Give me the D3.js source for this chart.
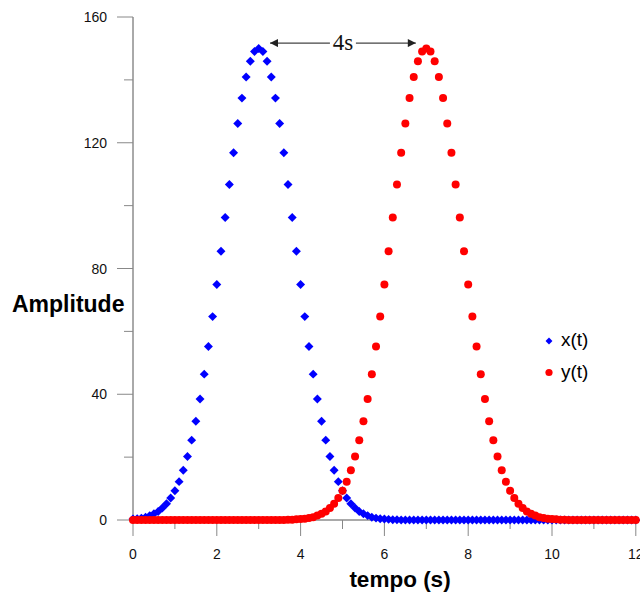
<!DOCTYPE html>
<html><head><meta charset="utf-8">
<script src="https://cdn.jsdelivr.net/npm/d3@7"></script>
<style>body{margin:0;background:#fff;overflow:hidden}svg{display:block}</style>
</head><body>
<script>
// time samples 0..12 s, step 0.1 s
const tStart = 0, tStep = 0.1;
const xValues = [
0.3,0.4,0.6,0.9,1.4,2.0,2.7,3.8,5.2,7.0,
9.3,12.2,15.8,20.2,25.4,31.4,38.5,46.4,55.2,64.7,
74.9,85.5,96.2,106.7,116.8,126.1,134.2,140.9,145.9,149.0,
150.0,149.0,145.9,140.9,134.2,126.1,116.8,106.7,96.2,85.5,
74.9,64.7,55.2,46.4,38.5,31.4,25.4,20.2,15.8,12.2,
9.3,7.0,5.2,3.8,2.7,2.0,1.4,0.9,0.6,0.4,
0.3,0.2,0.1,0.1,0,0,0,0,0,0,
0,0,0,0,0,0,0,0,0,0,
0,0,0,0,0,0,0,0,0,0,
0,0,0,0,0,0,0,0,0,0,
0,0,0,0,0,0,0,0,0,0,
0,0,0,0,0,0,0,0,0,0,
0];
const yValues = [
0,0,0,0,0,0,0,0,0,0,
0,0,0,0,0,0,0,0,0,0,
0,0,0,0,0,0,0,0,0,0,
0,0,0,0,0,0,0,0.1,0.1,0.2,
0.3,0.4,0.6,0.9,1.4,2.0,2.7,3.8,5.2,7.0,
9.3,12.2,15.8,20.2,25.4,31.4,38.5,46.4,55.2,64.7,
74.9,85.5,96.2,106.7,116.8,126.1,134.2,140.9,145.9,149.0,
150.0,149.0,145.9,140.9,134.2,126.1,116.8,106.7,96.2,85.5,
74.9,64.7,55.2,46.4,38.5,31.4,25.4,20.2,15.8,12.2,
9.3,7.0,5.2,3.8,2.7,2.0,1.4,0.9,0.6,0.4,
0.3,0.2,0.1,0.1,0,0,0,0,0,0,
0,0,0,0,0,0,0,0,0,0,
0];
const seriesNames = ["x(t)", "y(t)"];
const seriesColors = ["#0000ff", "#ff0000"];
const xTicks = [0, 2, 4, 6, 8, 10, 12];
const xMinorTicks = [1, 3, 5, 7, 9, 11];
const yTicks = [0, 40, 80, 120, 160];
const yMinorTicks = [20, 60, 100, 140];
const annotation = {from: 3.27, to: 6.75, level: 151.7, label: "4s"};

const W = 640, H = 594;
const svg = d3.select("body").append("svg").attr("width", W).attr("height", H);
const x = d3.scaleLinear().domain([0, 12]).range([133, 635.8]);
const y = d3.scaleLinear().domain([0, 160]).range([520, 17]);

const font = "'Liberation Sans', Arial, sans-serif";

// axes
const yAxis = svg.append("g");
yAxis.append("line").attr("x1", x(0)).attr("x2", x(0)).attr("y1", y(160)).attr("y2", y(0)).attr("stroke", "#555").attr("stroke-width", 1);
yAxis.selectAll(".maj").data(yTicks).join("line").attr("x1", x(0) - 16).attr("x2", x(0))
  .attr("y1", d => y(d)).attr("y2", d => y(d)).attr("stroke", "#888");
yAxis.selectAll(".min").data(yMinorTicks).join("line").attr("class","min").attr("x1", x(0) - 9).attr("x2", x(0))
  .attr("y1", d => y(d)).attr("y2", d => y(d)).attr("stroke", "#888");
yAxis.selectAll("text").data(yTicks).join("text").attr("x", 107).attr("y", d => y(d) + 5)
  .attr("text-anchor", "end").attr("font-family", font).attr("font-size", 14).attr("fill", "#111").text(d => d);

const xAxis = svg.append("g");
xAxis.append("line").attr("x1", x(0)).attr("x2", x(12)).attr("y1", y(0)).attr("y2", y(0)).attr("stroke", "#555");
xAxis.selectAll(".maj").data(xTicks).join("line").attr("x1", d => x(d)).attr("x2", d => x(d))
  .attr("y1", y(0)).attr("y2", y(0) + 16).attr("stroke", "#888");
xAxis.selectAll(".min").data(xMinorTicks).join("line").attr("class","min").attr("x1", d => x(d)).attr("x2", d => x(d))
  .attr("y1", y(0)).attr("y2", y(0) + 9).attr("stroke", "#888");
xAxis.selectAll("text").data(xTicks).join("text").attr("x", d => x(d)).attr("y", 559)
  .attr("text-anchor", "middle").attr("font-family", font).attr("font-size", 14).attr("fill", "#111").text(d => d);

// axis titles
svg.append("text").attr("x", 12).attr("y", 312).attr("font-family", font).attr("font-weight", "bold")
  .attr("font-size", 23).attr("fill", "#000").text("Amplitude");
svg.append("text").attr("x", 400).attr("y", 587).attr("text-anchor", "middle").attr("font-family", font)
  .attr("font-weight", "bold").attr("font-size", 22.5).attr("fill", "#000").text("tempo (s)");

// data
const ptsX = xValues.map((v, i) => ({t: tStart + i * tStep, v}));
const ptsY = yValues.map((v, i) => ({t: tStart + i * tStep, v}));
const diamond = d3.symbol().type(d3.symbolSquare).size(40);
svg.append("g").selectAll("path").data(ptsX).join("path").attr("d", diamond)
  .attr("transform", d => `translate(${x(d.t)},${y(d.v)}) rotate(45)`).attr("fill", seriesColors[0]);
svg.append("g").selectAll("circle").data(ptsY).join("circle")
  .attr("cx", d => x(d.t)).attr("cy", d => y(d.v)).attr("r", 4).attr("fill", seriesColors[1]);

// annotation arrow
const defs = svg.append("defs");
defs.append("marker").attr("id", "ah").attr("viewBox", "0 0 10 10").attr("refX", 10).attr("refY", 5)
  .attr("markerWidth", 12).attr("markerHeight", 8).attr("markerUnits", "userSpaceOnUse").attr("orient", "auto-start-reverse")
  .append("path").attr("d", "M0,0L10,5L0,10Z").attr("fill", "#222");
const ay = y(annotation.level), mid = (x(annotation.from) + x(annotation.to)) / 2;
svg.append("line").attr("x1", x(annotation.from)).attr("x2", mid - 13).attr("y1", ay).attr("y2", ay)
  .attr("stroke", "#444").attr("stroke-width", 1.2).attr("marker-start", "url(#ah)");
svg.append("line").attr("x1", mid + 13).attr("x2", x(annotation.to)).attr("y1", ay).attr("y2", ay)
  .attr("stroke", "#444").attr("stroke-width", 1.2).attr("marker-end", "url(#ah)");
svg.append("text").attr("x", mid).attr("y", ay + 7).attr("text-anchor", "middle")
  .attr("font-family", "'Liberation Serif', 'Times New Roman', serif").attr("font-size", 23).attr("fill", "#111").text(annotation.label);

// legend
const lg = svg.append("g");
lg.append("path").attr("d", d3.symbol().type(d3.symbolSquare).size(24)).attr("transform", "translate(549,341) rotate(45)").attr("fill", seriesColors[0]);
lg.append("circle").attr("cx", 549).attr("cy", 372.5).attr("r", 3.6).attr("fill", seriesColors[1]);
lg.selectAll("text").data(seriesNames).join("text").attr("x", 561).attr("y", (d, i) => 346 + i * 32)
  .attr("font-family", font).attr("font-size", 19).attr("fill", "#000").text(d => d);
</script>
</body></html>
